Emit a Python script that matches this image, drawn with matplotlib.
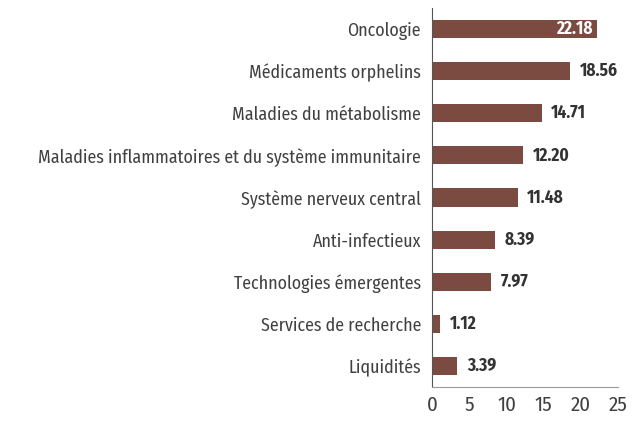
import numpy as np
import matplotlib.pyplot as plt

categories = ['Oncologie', 'Médicaments orphelins', 'Maladies du métabolisme',
              'Maladies inflammatoires et du système immunitaire',
              'Système nerveux central', 'Anti-infectieux',
              'Technologies émergentes', 'Services de recherche', 'Liquidités']
values = [22.18, 18.56, 14.71, 12.20, 11.48, 8.39, 7.97, 1.12, 3.39]
xticks = [0, 5, 10, 15, 20, 25]

plt.rcParams['font.family'] = ['Fira Sans Condensed', 'DejaVu Sans']

fig = plt.figure(figsize=(6.42, 4.28), dpi=100)
ax = fig.add_axes([0.673, 0.096, 0.29, 0.885])

y = np.arange(len(categories))
bar_color = '#7b4a40'
ax.barh(y, values, height=0.43, color=bar_color)
ax.set_ylim(len(categories) - 0.5, -0.5)
ax.set_xlim(0, 25)
ax.set_yticks(y)
ax.set_yticklabels(categories, fontsize=12.8, color='#404040')
ax.set_xticks(xticks)
ax.set_xticklabels([str(t) for t in xticks], fontsize=15, color='#404040')
ax.tick_params(axis='both', length=0)
ax.tick_params(axis='y', pad=8)
ax.tick_params(axis='x', pad=6)

for s in ['top', 'right']:
    ax.spines[s].set_visible(False)
ax.spines['left'].set_color('#555555')
ax.spines['bottom'].set_color('#999999')

for i, v in enumerate(values):
    if v > 20:
        ax.text(v - 0.6, i, f'{v:.2f}', va='center', ha='right',
                fontsize=12.5, fontweight='bold', color='white')
    else:
        ax.text(v + 1.3, i, f'{v:.2f}', va='center', ha='left',
                fontsize=12.5, fontweight='bold', color='#333333')

fig.savefig('out.png', dpi=100)
